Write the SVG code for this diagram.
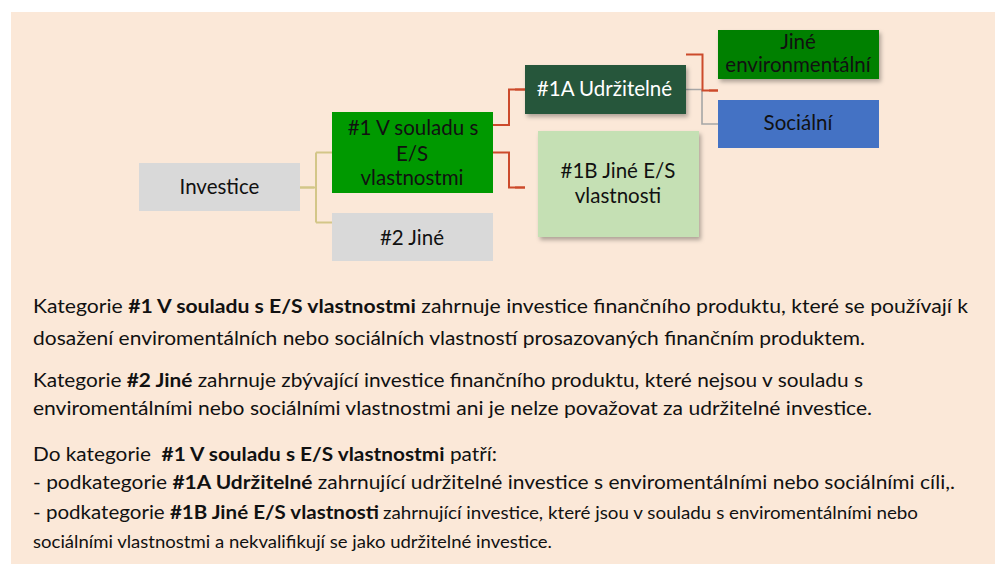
<svg xmlns="http://www.w3.org/2000/svg" width="995" height="564" viewBox="0 0 995 564">
<defs>
<filter id="sh" x="-10%" y="-10%" width="130%" height="140%">
<feDropShadow dx="2" dy="3" stdDeviation="2" flood-color="#000" flood-opacity="0.3"/>
</filter>
<style>
text{font-family:Lato,"Open Sans","Liberation Sans",sans-serif;fill:#111}
.n{font-size:20.5px;text-anchor:middle}
.w{fill:#fff}
.p{font-size:19.5px}
.s{font-size:17px}
.b{font-weight:bold}
.tan{stroke:#D3C688;fill:none;stroke-width:2}
.red{stroke:#CC4A2B;fill:none;stroke-width:2}
.gry{stroke:#A6A6A6;fill:none;stroke-width:1.6}
</style>
</defs>
<rect x="0" y="0" width="995" height="564" fill="#fff"/>
<rect x="11" y="12" width="984" height="552" fill="#FBE8D8"/>

<g id="connectors">
<path class="tan" d="M300,187.5 H316 M316,152.5 V222.5 M316,152.5 H332 M316,222.5 H332"/>
<path class="tan" d="M300,187.5 H314" stroke-width="3"/>
<path class="red" d="M493,125 H509 V89.5 H525"/>
<path class="red" d="M515,89.5 H525" stroke-width="3"/>
<path class="red" d="M493,152.5 H509 V187.5 H525"/>
<path class="red" d="M515,187.5 H525" stroke-width="3"/>
<path class="gry" d="M686,89.5 H702 V124 H718"/>
<path class="red" d="M686,54.5 H702.5 V90.5 H718"/>
<path class="red" d="M709,90.5 H718" stroke-width="3"/>
</g>

<g id="investice">
<rect x="139" y="163" width="161" height="48" fill="#D9D9D9"/>
<text class="n" x="219.5" y="194">Investice</text>
</g>
<g id="n1">
<rect x="332" y="112" width="161" height="81" fill="#009900"/>
<text class="n" x="413" y="135">#1 V souladu s</text>
<text class="n" x="412" y="160.5">E/S</text>
<text class="n" x="412" y="185">vlastnostmi</text>
</g>
<g id="n2">
<rect x="332" y="213" width="161" height="48" fill="#D9D9D9"/>
<text class="n" x="412" y="245">#2 Jiné</text>
</g>
<g id="n1a">
<rect x="525" y="65" width="161" height="49" fill="#25573A" filter="url(#sh)"/>
<text class="n w" x="604.5" y="96">#1A Udržitelné</text>
</g>
<g id="n1b">
<rect x="538" y="131" width="161" height="106" fill="#C5E0B4" filter="url(#sh)"/>
<text class="n" x="618" y="178">#1B Jiné E/S</text>
<text class="n" x="618" y="203">vlastnosti</text>
</g>
<g id="env">
<rect x="718" y="30" width="161" height="49" fill="#008000" filter="url(#sh)"/>
<text class="n" x="798" y="49">Jiné</text>
<text class="n" x="798" y="72">environmentální</text>
</g>
<g id="soc">
<rect x="718" y="100" width="161" height="48" fill="#4472C4"/>
<text class="n" x="798" y="130">Sociální</text>
</g>

<g id="popis">
<text class="p" x="33" y="313" font-size="21" textLength="935" lengthAdjust="spacingAndGlyphs">Kategorie <tspan class="b">#1 V souladu s E/S vlastnostmi</tspan> zahrnuje investice finančního produktu, které se používají k</text>
<text class="p" x="33" y="345" textLength="832" lengthAdjust="spacingAndGlyphs">dosažení enviromentálních nebo sociálních vlastností prosazovaných finančním produktem.</text>
<text class="p" x="33" y="387" textLength="830" lengthAdjust="spacingAndGlyphs">Kategorie <tspan class="b">#2 Jiné</tspan> zahrnuje zbývající investice finančního produktu, které nejsou v souladu s</text>
<text class="p" x="33" y="415" textLength="839" lengthAdjust="spacingAndGlyphs">enviromentálními nebo sociálními vlastnostmi ani je nelze považovat za udržitelné investice.</text>
<text class="p" x="33" y="461" textLength="464" lengthAdjust="spacingAndGlyphs">Do kategorie &#160;<tspan class="b">#1 V souladu s E/S vlastnostmi</tspan> patří:</text>
<text class="p" x="33" y="489" textLength="922" lengthAdjust="spacingAndGlyphs">- podkategorie <tspan class="b">#1A Udržitelné</tspan> zahrnující udržitelné investice s enviromentálními nebo sociálními cíli,.</text>
<text class="p" x="33" y="519" textLength="346" lengthAdjust="spacingAndGlyphs">- podkategorie <tspan class="b">#1B Jiné E/S vlastnosti</tspan></text>
<text class="s" x="383" y="519" textLength="535" lengthAdjust="spacingAndGlyphs">zahrnující investice, které jsou v souladu s enviromentálními nebo</text>
<text class="s" x="33" y="548" textLength="519" lengthAdjust="spacingAndGlyphs">sociálními vlastnostmi a nekvalifikují se jako udržitelné investice.</text>
</g>
</svg>
